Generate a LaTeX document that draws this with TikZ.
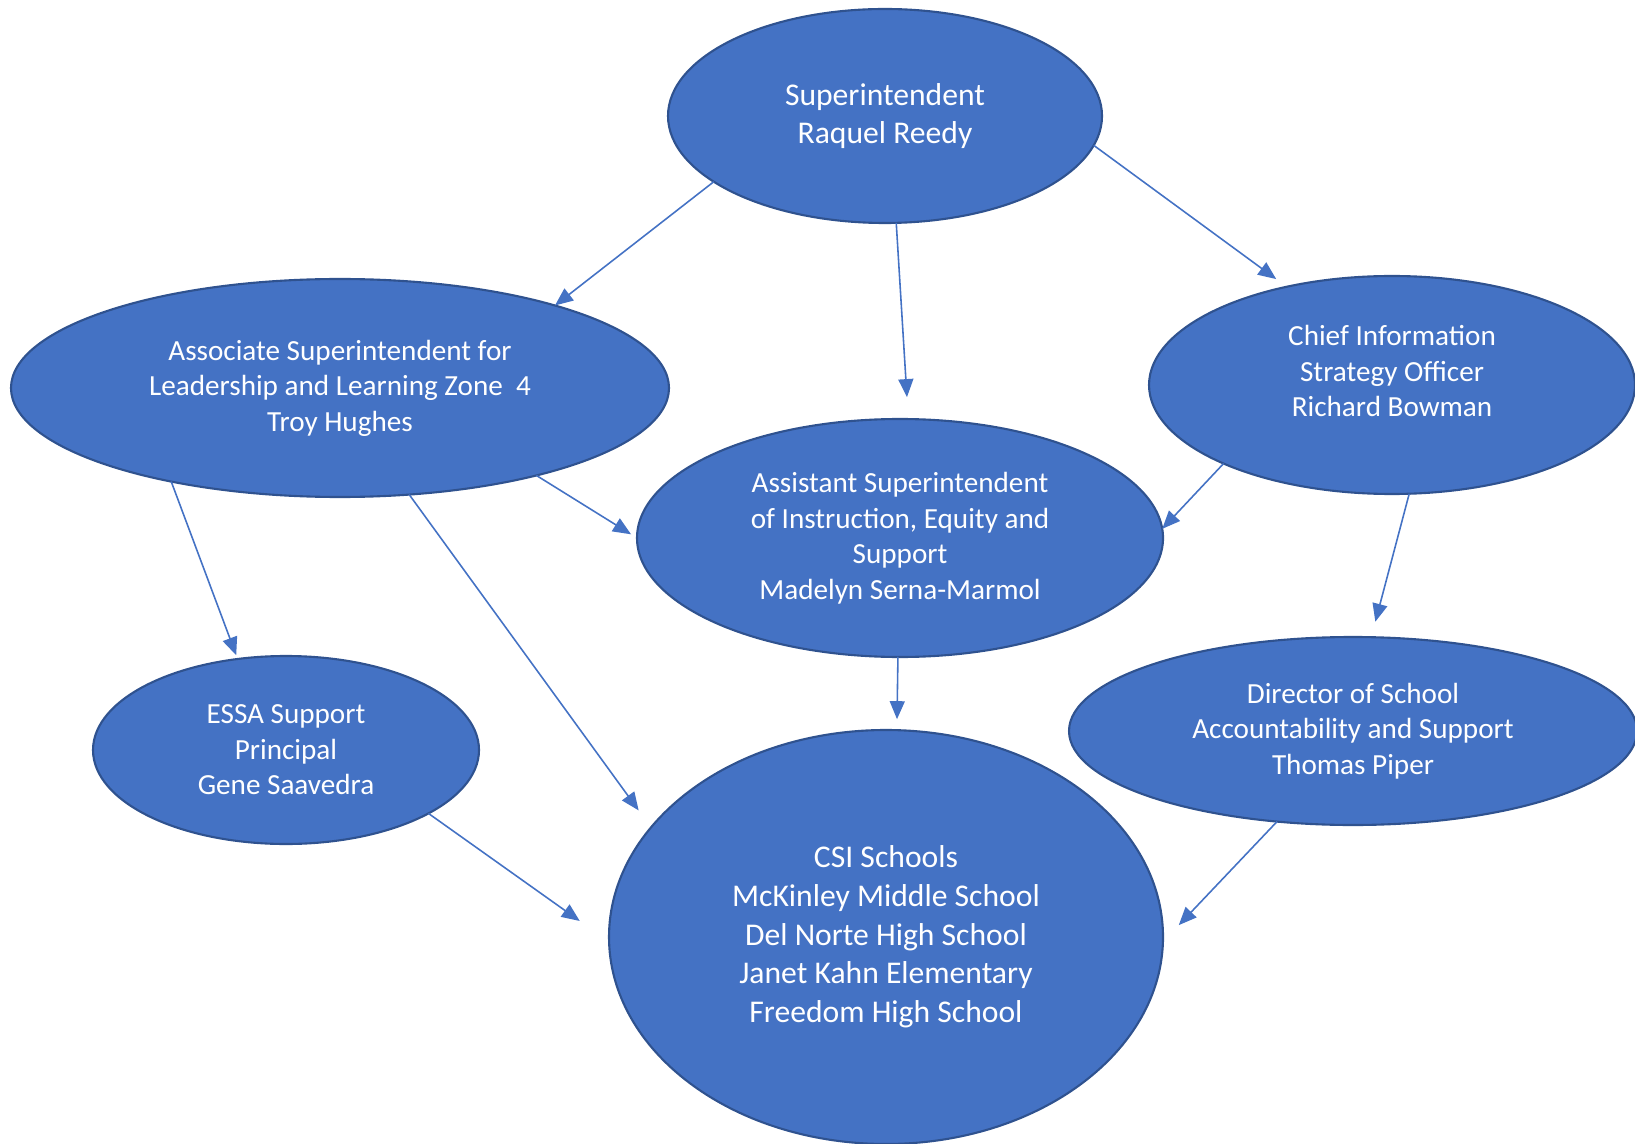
\documentclass[tikz,border=0pt]{standalone}
\usepackage{fontspec}
\setmainfont{Carlito}
\usetikzlibrary{shapes.geometric,arrows.meta}
\definecolor{ovalfill}{HTML}{4472C4}
\definecolor{ovalline}{HTML}{2F528F}
\begin{document}
\begin{tikzpicture}[
    oval/.style={ellipse,draw=ovalline,line width=0.6pt,fill=ovalfill,text=white,
      inner sep=0pt,outer sep=0pt,align=center,font=\fontsize{8.3}{10.1}\selectfont},
    bigoval/.style={oval,font=\fontsize{9}{11}\selectfont},
    link/.style={draw=ovalfill,line width=0.45pt,-{Triangle[length=1.8mm,width=1.5mm]}}
  ]
    \useasboundingbox (0,0) rectangle (16.35,-11.44);

    % Top level
    \node[bigoval,minimum width=4.34cm,minimum height=2.14cm] (sup) at (8.85,-1.16)
      {Superintendent\\Raquel Reedy};

    % Second level
    \node[oval,minimum width=6.58cm,minimum height=2.18cm] (assoc) at (3.40,-3.88)
      {Associate Superintendent for\\Leadership and Learning Zone\ \ 4\\Troy Hughes};
    \node[oval,minimum width=4.86cm,minimum height=2.18cm] (chief) at (13.92,-3.85)
      {\raisebox{0.11cm}[\height][\depth]{\begin{tabular}{@{}c@{}}Chief Information\\Strategy Officer\\Richard Bowman\end{tabular}}};
    \node[oval,minimum width=5.26cm,minimum height=2.38cm] (asst) at (9.00,-5.38)
      {Assistant Superintendent\\of Instruction, Equity and\\Support\\Madelyn Serna-Marmol};

    % Third level
    \node[oval,minimum width=3.86cm,minimum height=1.88cm] (essa) at (2.86,-7.50)
      {ESSA Support\\Principal\\Gene Saavedra};
    \node[oval,minimum width=5.68cm,minimum height=1.88cm] (dir) at (13.53,-7.31)
      {Director of School\\Accountability and Support\\Thomas Piper};
    \node[bigoval,minimum width=5.54cm,minimum height=4.14cm] (csi) at (8.86,-9.37)
      {CSI Schools\\McKinley Middle School\\Del Norte High School\\Janet Kahn Elementary\\Freedom High School};

    % Connectors
    \draw[link] (sup.201.6) -- (assoc.21.9);
    \draw[link,shorten >=0.22cm] (sup.276.8) -- (asst.86.3);
    \draw[link,shorten >=0.13cm] (sup.352.1) -- (chief.137.3);
    \draw[link,shorten >=0.07cm] (assoc.336) -- (asst.180.65);
    \draw[link,shorten >=0.04cm] (assoc.209.3) -- (essa.118.1);
    \draw[link,shorten >=0.21cm] (assoc.303.4) -- (csi.155.6);
    \draw[link] (chief.205.05) -- (asst.2.4);
    \draw[link,shorten >=0.16cm] (chief.279.4) -- (dir.79.4);
    \draw[link,shorten >=0.11cm] (asst.269) -- (csi.87.3);
    \draw[link,shorten >=0.36cm] (essa.336.4) -- (csi.181.2);
    \draw[link,shorten >=0.23cm] (dir.230.1) -- (csi.359.4);
  \end{tikzpicture}
\end{document}
